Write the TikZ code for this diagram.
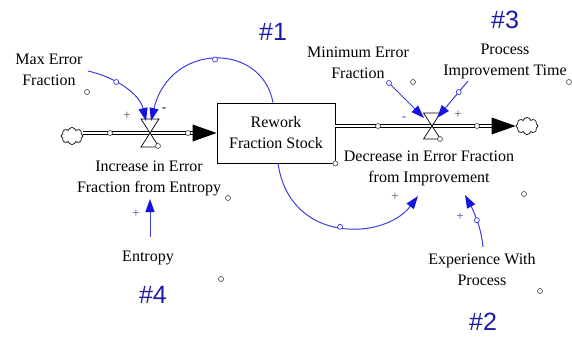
\documentclass[tikz,border=0pt]{standalone}
\usepackage{fontspec}
\setmainfont{Liberation Serif}
\newfontfamily\hashfont{Liberation Sans}
\usetikzlibrary{arrows.meta,shapes.symbols}
\definecolor{linkblue}{RGB}{60,60,225}
\definecolor{tipblue}{RGB}{20,20,225}
\definecolor{hashblue}{RGB}{25,25,165}
\begin{document}
\begin{tikzpicture}[x=1pt,y=-1pt,
 lbl/.style={font=\fontsize{16}{21}\selectfont, align=center, inner sep=0pt},
 hash/.style={font=\hashfont\fontsize{25}{25}\selectfont, text=hashblue, inner sep=0pt},
 dotc/.style={circle, draw=black!75, fill=white, line width=0.6pt, minimum size=5pt, inner sep=0pt},
 bdot/.style={circle, draw=linkblue, fill=white, line width=0.7pt, minimum size=5pt, inner sep=0pt},
 link/.style={draw=linkblue, line width=1pt, -{Triangle[length=13pt,width=9pt,color=tipblue]}},
 pipe/.style={double distance=2.4pt, line width=0.8pt, draw=black},
 valve/.style={draw, fill=white, line width=0.7pt},
 sgn/.style={font=\fontsize{13}{13}\selectfont, inner sep=0pt},
 cloudy/.style={cloud, cloud puffs=8, draw, line width=0.7pt, minimum width=22pt, minimum height=17pt, inner sep=0pt, aspect=1.4}
]
\useasboundingbox (0,0) rectangle (572,337);

% stock and clouds
\node[draw, line width=0.8pt, minimum width=118pt, minimum height=60pt, lbl] (stock) at (276,133) {Rework\\Fraction Stock};
\node[cloudy] (lcloud) at (72,136) {};
\node[cloudy] (rcloud) at (527,126) {};

\coordinate (lv) at (150,133);
\coordinate (rv) at (432,126);

% pipes
\draw[pipe] (lcloud.east |- lv) -- ([xshift=-22pt]stock.west |- lv);
\fill (stock.west |- lv) -- ++(-24,8.5) -- ++(0,-17) -- cycle;
\draw[pipe] (stock.east |- rv) -- ([xshift=-22pt]rcloud.west |- rv);
\fill (rcloud.west |- rv) -- ++(-24,8.5) -- ++(0,-17) -- cycle;

% pipe dots
\node[dotc] (pd1) at (110,133) {};
\node[dotc] (pd2) at (188,133) {};
\node[dotc] (pd3) at (378,126) {};
\node[dotc] (pd4) at (477,126) {};

% valves
\draw[valve] (lv) ++(-9,-14) -- ++(18,0) -- ++(-18,28) -- ++(18,0) -- cycle;
\draw[valve] (rv) ++(-8.5,-13) -- ++(17,0) -- ++(-17,26) -- ++(17,0) -- cycle;
\node[dotc] (lvd) at (158,146) {};
\node[dotc] (rvd) at (440,139) {};

% labels
\node[lbl] (maxerr) at (49,70) {Max Error\\Fraction};
\node[lbl] (incr) at (149,178) {Increase in Error\\Fraction from Entropy};
\node[lbl] (entropy) at (148,258) {Entropy};
\node[lbl] (minerr) at (358,63) {Minimum Error\\Fraction};
\node[lbl] (pit) at (505,61) {Process\\Improvement Time};
\node[lbl] (decr) at (429,168) {Decrease in Error Fraction\\from Improvement};
\node[lbl] (exper) at (482,270) {Experience With\\Process};

% free dots
\node[dotc] (fd1) at (87,92) {};
\node[dotc] (fd2) at (413,82) {};
\node[dotc] (fd3) at (569,82) {};
\node[dotc] (fd4) at (stock.south east) {};
\node[dotc] (fd5) at (228,198) {};
\node[dotc] (fd6) at (221,279) {};
\node[dotc] (fd7) at (524,194) {};
\node[dotc] (fd8) at (540,291) {};

% link endpoints
\coordinate (mxS) at (88,71);
\coordinate (mxE) at (146,121);
\coordinate (topE) at (151,121);
\coordinate (botE) at (418,196);
\coordinate (mnS) at (389,83);
\coordinate (mnE) at (424,118);
\coordinate (ptS) at (468,81);
\coordinate (ptE) at (437,118);
\coordinate (enS) at (150,237);
\coordinate (enE) at (150,199);
\coordinate (exS) at (483,247);
\coordinate (exE) at (465,195);

% links
\draw[link] (mxS) .. controls (118,78) and (140,95) .. (mxE) node[bdot,pos=0.35] (mxd) {};
\draw[link] ([xshift=-3pt]stock.north) .. controls (262,42) and (170,42) .. (topE) node[bdot,pos=0.5] (topd) {};
\draw[link] ([xshift=2pt]stock.south) .. controls (290,245) and (385,240) .. (botE) node[bdot,pos=0.5] (botd) {};
\draw[link] (mnS) -- (mnE);
\node[bdot] (mnd) at (mnS) {};
\draw[link] (ptS) -- (ptE) node[bdot,pos=0.3] (ptd) {};
\draw[link] (enS) -- (enE);
\draw[link] (exS) .. controls (481,225) and (472,208) .. (exE) node[bdot,pos=0.45] (exd) {};

% polarity signs
\node[sgn, text=black!70] (s1) at (127,116) {+};
\node[sgn] (s2) at (164,110) {-};
\node[sgn, text=linkblue] (s3) at (404,119) {-};
\node[sgn, text=black!70] (s4) at (458,115) {+};
\node[sgn, text=linkblue] (s5) at (136,214) {+};
\node[sgn, text=black!70] (s6) at (395,197) {+};
\node[sgn, text=linkblue] (s7) at (460,217) {+};

% loop labels
\node[hash] (h1) at (273,32) {\#1};
\node[hash] (h2) at (483,322) {\#2};
\node[hash] (h3) at (505,20) {\#3};
\node[hash] (h4) at (153,295) {\#4};
\end{tikzpicture}
\end{document}
